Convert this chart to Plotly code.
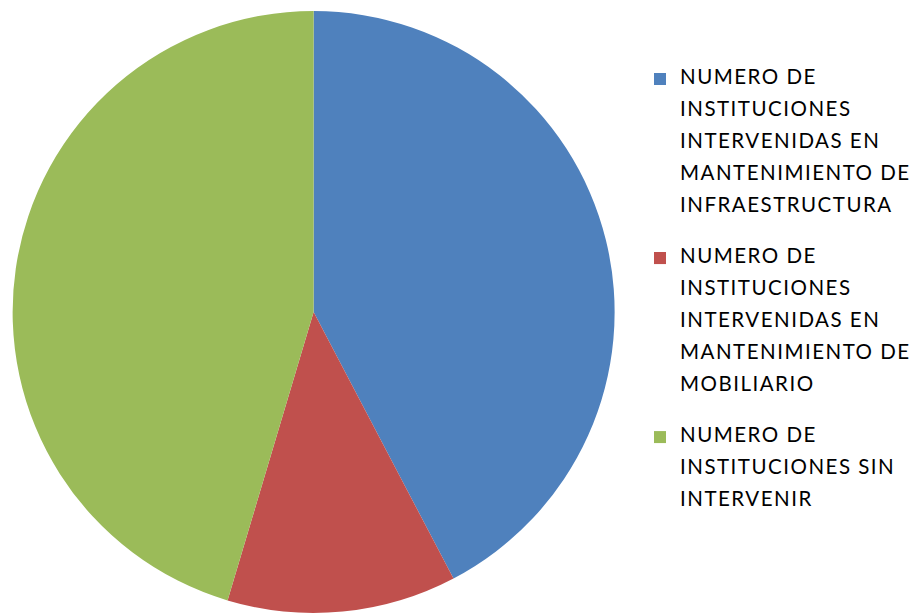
import plotly.graph_objects as go

categories = [
    ["NUMERO DE", "INSTITUCIONES", "INTERVENIDAS EN", "MANTENIMIENTO DE", "INFRAESTRUCTURA"],
    ["NUMERO DE", "INSTITUCIONES", "INTERVENIDAS EN", "MANTENIMIENTO DE", "MOBILIARIO"],
    ["NUMERO DE", "INSTITUCIONES SIN", "INTERVENIR"],
]
values = [55, 16, 59]
colors = ["#4F81BD", "#C0504D", "#9BBB59"]

W, H = 916, 614
LINE = 16  # half of the legend line pitch; blank lines give the spacing
SPAN = '<span style="font-size:20.5px;letter-spacing:1.5px">{}</span>'


def make_label(lines, trailing):
    parts = []
    for i, ln in enumerate(lines):
        parts.append(SPAN.format(ln))
        if i < len(lines) - 1:
            parts.append("")
    parts += [""] * trailing
    return "<br>".join(parts)


labels = [make_label(c, 2 if i < len(categories) - 1 else 0) for i, c in enumerate(categories)]

fig = go.Figure(
    go.Pie(
        labels=labels,
        values=values,
        marker=dict(colors=colors, line=dict(width=0)),
        sort=False,
        direction="clockwise",
        rotation=0,
        textinfo="none",
        hoverinfo="value+percent",
        domain=dict(x=[0, 630 / W], y=[0, 1]),
    )
)

fig.update_layout(
    width=W,
    height=H,
    margin=dict(l=0, r=0, t=11, b=1),
    paper_bgcolor="white",
    plot_bgcolor="white",
    showlegend=True,
    legend=dict(
        x=643 / W,
        xanchor="left",
        y=0.911,
        yanchor="top",
        valign="top",
        font=dict(family="Lato, Open Sans, sans-serif", size=LINE / 1.3, color="#000000"),
        bgcolor="rgba(0,0,0,0)",
    ),
)

fig.write_html(
    "out.html",
    config={"displayModeBar": False},
    post_script="document.body.style.margin='0';",
)
